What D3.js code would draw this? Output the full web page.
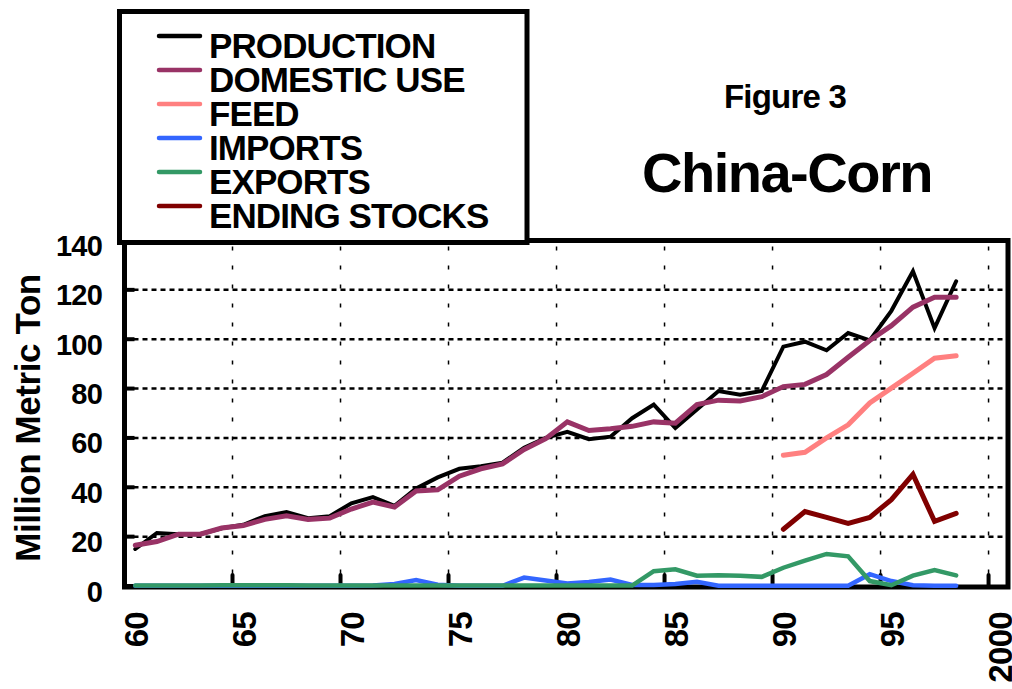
<!DOCTYPE html>
<html>
<head>
<meta charset="utf-8">
<script src="https://cdn.jsdelivr.net/npm/d3@7"></script>
<style>
  html, body { margin: 0; padding: 0; background: #fff; }
  svg { display: block; font-family: "Liberation Sans", Arial, sans-serif; font-weight: bold; }
</style>
</head>
<body>
<svg id="chart" width="1012" height="689"></svg>
<script>
const WIDTH = 1012;
const HEIGHT = 689;

const YEARS = d3.range(1960, 1999);
const PRODUCTION = [15, 21.5, 21, 21, 23.4, 24.8, 28.3, 30, 27.5, 28.3, 33.5, 36, 32.5, 39.5, 44, 47.5, 48.5, 50, 56, 60, 62.5, 59.5, 60.5, 68, 73.5, 64, 71.5, 79, 77.5, 79, 97, 99, 95.5, 102.5, 99.5, 111.5, 127.5, 104.5, 123.5];
const DOMESTIC = [16.5, 18, 21, 21, 23.5, 24.5, 27, 28.5, 27, 27.5, 31.2, 34, 32, 38.5, 39, 44.5, 47.5, 49.5, 55.3, 59.7, 66.5, 63, 63.7, 64.7, 66.5, 66, 73.5, 75.3, 75, 76.7, 80.8, 81.7, 85.7, 92.7, 99.5, 105.5, 113, 117, 117];
const IMPORTS = [0.1, 0.1, 0.1, 0.1, 0.1, 0.1, 0.1, 0.1, 0.1, 0.1, 0.1, 0.2, 0.8, 2.4, 0.5, 0.1, 0.1, 0.1, 3.4, 2.2, 1, 1.6, 2.6, 0.4, 0.4, 0.8, 1.7, 0.1, 0.1, 0.1, 0.1, 0.1, 0.1, 0.1, 4.8, 2, 0.3, 0.1, 0.1];
const EXPORTS = [0.2, 0.2, 0.2, 0.2, 0.3, 0.3, 0.3, 0.3, 0.2, 0.2, 0.2, 0.2, 0.2, 0.2, 0.2, 0.2, 0.2, 0.2, 0.2, 0.2, 0.2, 0.2, 0.2, 0.2, 6, 6.8, 4.2, 4.4, 4.2, 3.7, 7.4, 10.3, 13, 12, 2, 0.3, 4.2, 6.5, 4.3];
const FEED_YEARS = d3.range(1990, 1999);
const FEED = [53, 54.2, 60, 65.3, 74.2, 80.2, 86.2, 92.3, 93.3];
const STOCKS = [23, 30.2, 27.8, 25.4, 27.8, 35, 45.2, 26.2, 29.4];

const Y_TICKS = [0, 20, 40, 60, 80, 100, 120, 140];
const X_TICKS = [60, 65, 70, 75, 80, 85, 90, 95, 100];
const X_TICK_LABELS = ["60", "65", "70", "75", "80", "85", "90", "95", "2000"];

const SERIES = [
  { name: "PRODUCTION", color: "#000000", width: 4, years: YEARS, values: PRODUCTION },
  { name: "DOMESTIC USE", color: "#993366", width: 5, years: YEARS, values: DOMESTIC },
  { name: "FEED", color: "#ff8080", width: 5, years: FEED_YEARS, values: FEED },
  { name: "IMPORTS", color: "#3366ff", width: 4.5, years: YEARS, values: IMPORTS },
  { name: "EXPORTS", color: "#339966", width: 4.5, years: YEARS, values: EXPORTS },
  { name: "ENDING STOCKS", color: "#800000", width: 5, years: FEED_YEARS, values: STOCKS }
];

const svg = d3.select("#chart");

const plot = { left: 124.5, right: 1008, top: 240.5, bottom: 586 };

const x = d3.scaleLinear().domain([60, 100.9]).range([plot.left, plot.right]);
const y = d3.scaleLinear().domain([0, 140]).range([plot.bottom, plot.top]);

// category centre for a given calendar year
const cx = (year) => x(year - 1900 + 0.5);

// gridlines
svg.append("g")
  .selectAll("line")
  .data(Y_TICKS.filter((d) => d > 0 && d < 140))
  .join("line")
  .attr("x1", plot.left)
  .attr("x2", plot.right)
  .attr("y1", (d) => y(d))
  .attr("y2", (d) => y(d))
  .attr("stroke", "#000")
  .attr("stroke-width", 2.5)
  .attr("stroke-dasharray", "5 4");

svg.append("g")
  .selectAll("line")
  .data(X_TICKS.filter((d) => d > 60))
  .join("line")
  .attr("x1", (d) => x(d))
  .attr("x2", (d) => x(d))
  .attr("y1", plot.top)
  .attr("y2", plot.bottom)
  .attr("stroke", "#000")
  .attr("stroke-width", 1.5)
  .attr("stroke-dasharray", "4 15")
  .attr("stroke-dashoffset", -6);

// frame + ticks (under the series, as in the original)
svg.append("rect")
  .attr("x", plot.left)
  .attr("y", plot.top)
  .attr("width", plot.right - plot.left)
  .attr("height", plot.bottom - plot.top + 1)
  .attr("fill", "none")
  .attr("stroke", "#000")
  .attr("stroke-width", 5);

svg.append("g")
  .selectAll("line")
  .data(Y_TICKS)
  .join("line")
  .attr("x1", plot.left)
  .attr("x2", plot.left + 10)
  .attr("y1", (d) => y(d))
  .attr("y2", (d) => y(d))
  .attr("stroke", "#000")
  .attr("stroke-width", 4);

svg.append("g")
  .selectAll("line")
  .data(X_TICKS.filter((d) => d > 60))
  .join("line")
  .attr("x1", (d) => x(d))
  .attr("x2", (d) => x(d))
  .attr("y1", plot.bottom)
  .attr("y2", plot.bottom - 11)
  .attr("stroke", "#000")
  .attr("stroke-width", 4)
  .attr("stroke-linecap", "round");

// series lines
const line = d3.line()
  .x((d) => cx(d[0]))
  .y((d) => y(d[1]));

svg.append("g")
  .selectAll("path")
  .data(SERIES)
  .join("path")
  .attr("fill", "none")
  .attr("stroke", (d) => d.color)
  .attr("stroke-width", (d) => d.width)
  .attr("stroke-linejoin", "miter")
  .attr("stroke-linecap", "round")
  .attr("d", (d) => line(d.years.map((yr, i) => [yr, d.values[i]])));

// y tick labels
svg.append("g")
  .selectAll("text")
  .data(Y_TICKS)
  .join("text")
  .attr("x", 102)
  .attr("y", (d) => y(d) + 15.5)
  .attr("text-anchor", "end")
  .attr("font-size", 29)
  .attr("letter-spacing", -0.8)
  .text((d) => d);

// x tick labels, rotated, centred in each category
svg.append("g")
  .selectAll("text")
  .data(X_TICKS)
  .join("text")
  .attr("transform", (d) => `translate(${x(d + 0.5) + 12.5},612) rotate(-90)`)
  .attr("text-anchor", "end")
  .attr("font-size", 33)
  .attr("letter-spacing", -0.7)
  .text((d, i) => X_TICK_LABELS[i]);

// y axis title
svg.append("text")
  .attr("transform", "translate(40,418) rotate(-90)")
  .attr("text-anchor", "middle")
  .attr("font-size", 35)
  .attr("letter-spacing", -0.4)
  .text("Million Metric Ton");

// titles
svg.append("text")
  .attr("x", 785)
  .attr("y", 108)
  .attr("text-anchor", "middle")
  .attr("font-size", 33)
  .attr("letter-spacing", -0.8)
  .text("Figure 3");

svg.append("text")
  .attr("x", 787)
  .attr("y", 192)
  .attr("text-anchor", "middle")
  .attr("font-size", 56)
  .attr("letter-spacing", -1.5)
  .text("China-Corn");

// legend
const legend = svg.append("g");
legend.append("rect")
  .attr("x", 119.5)
  .attr("y", 11.5)
  .attr("width", 527 - 119.5)
  .attr("height", 242.5 - 11.5)
  .attr("fill", "#fff")
  .attr("stroke", "#000")
  .attr("stroke-width", 5);

const rows = legend.selectAll("g.row")
  .data(SERIES)
  .join("g")
  .attr("class", "row")
  .attr("transform", (d, i) => `translate(0,${36 + i * 34})`);

rows.append("line")
  .attr("x1", 159)
  .attr("x2", 200)
  .attr("stroke", (d) => d.color)
  .attr("stroke-width", 4.5)
  .attr("stroke-linecap", "round");

rows.append("text")
  .attr("x", 209)
  .attr("y", 22.3)
  .attr("font-size", 35)
  .attr("letter-spacing", -0.9)
  .text((d) => d.name);
</script>
</body>
</html>
